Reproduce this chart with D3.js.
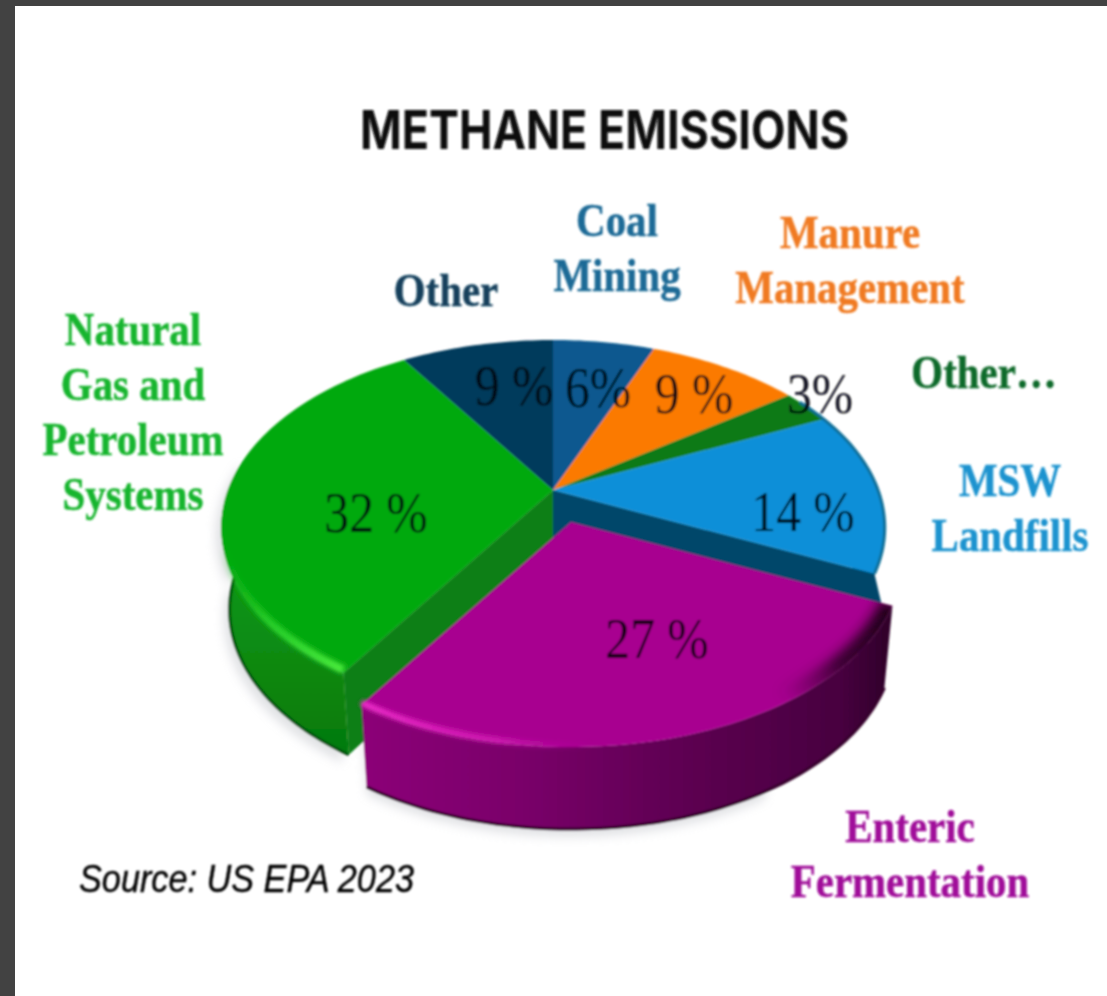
<!DOCTYPE html>
<html><head><meta charset="utf-8">
<script src="https://cdn.jsdelivr.net/npm/d3@7"></script>
<style>html,body{margin:0;padding:0;background:#fff;overflow:hidden}svg{display:block}</style>
</head><body><script>
const categories = ["Coal Mining","Manure Management","Other…","MSW Landfills","Enteric Fermentation","Natural Gas and Petroleum Systems","Other"];
const values = [6,9,3,14,27,32,9];
const sliceColors = ["#07598f","#fb7a05","#0a7a18","#0a8fd8","#a80090","#05a90f","#053b5c"];
const labelLines = [["Coal","Mining"],["Manure","Management"],["Other…"],["MSW","Landfills"],["Enteric","Fermentation"],["Natural","Gas and","Petroleum","Systems"],["Other"]];
const labelColors = ["#1d6a96","#f07a22","#0f6b2c","#1a93cf","#a0109a","#19b52e","#123f5c"];
const valueTexts = ["6%","9 %","3%","14 %","27 %","32 %","9 %"];
const titleText = "METHANE EMISSIONS";
const sourceText = "Source: US EPA 2023";
// layout (text anchor points, first-line baseline)
const labelPos = [[617,236],[850,248],[984,388],[1010,496],[910,842],[133,345],[446,306]];
const pctPos = [[598,407],[694,413],[820,413],[803,531],[657,658],[376,532],[514,405]];

const W=1107,H=996;
const svg=d3.select("body").append("svg").attr("width",W).attr("height",H);
const defs=svg.append("defs");
const f=defs.append("filter").attr("id","soft").attr("filterUnits","userSpaceOnUse").attr("x",0).attr("y",0).attr("width",W).attr("height",H);
f.append("feGaussianBlur").attr("stdDeviation",0.8);
const f2=defs.append("filter").attr("id","blur3").attr("filterUnits","userSpaceOnUse").attr("x",0).attr("y",0).attr("width",W).attr("height",H);
f2.append("feGaussianBlur").attr("stdDeviation",2.2);
const f3=defs.append("filter").attr("id","blur8").attr("filterUnits","userSpaceOnUse").attr("x",0).attr("y",0).attr("width",W).attr("height",H);
f3.append("feGaussianBlur").attr("stdDeviation",5);
const f4=defs.append("filter").attr("id","blur6").attr("filterUnits","userSpaceOnUse").attr("x",0).attr("y",0).attr("width",W).attr("height",H);
f4.append("feGaussianBlur").attr("stdDeviation",6);
function grad(id,x1,y1,x2,y2,stops){
  const g=defs.append("linearGradient").attr("id",id).attr("gradientUnits","userSpaceOnUse")
    .attr("x1",x1).attr("y1",y1).attr("x2",x2).attr("y2",y2);
  stops.forEach(s=>g.append("stop").attr("offset",s[0]).attr("stop-color",s[1]).attr("stop-opacity",s[2]===undefined?1:s[2]));
}
svg.append("rect").attr("width",W).attr("height",H).attr("fill","#fff");

// projection of the pie disc
const cx=553, cy=490, persp=0.2;
const sx=d3.scaleLinear().domain([-1,1]).range([-325,325]);
const sy=d3.scaleLinear().domain([-1,1]).range([-180,180]);
const depth=82, lowScale=0.975;
function project(a,drop=0,dx=0,dy=0,r=1){
  const X=Math.sin(a)*r, Y=-Math.cos(a)*r, w=1-persp*Y;
  const k=drop?lowScale:1;
  return [cx+dx+sx(X)/w*k, cy+dy+drop+sy(Y)/w];
}
const line=d3.line();
function rim(a0,a1,drop,dx,dy){
  const n=Math.max(2,Math.ceil(Math.abs(a1-a0)/0.02));
  return d3.range(n+1).map(i=>project(a0+(a1-a0)*i/n,drop,dx,dy));
}
const arcs=d3.pie().value(d=>d).sort(null)(values);
const wedge=(s,dx=0,dy=0)=>line([project(0,0,dx,dy,0),...rim(s.startAngle,s.endAngle,0,dx,dy)])+"Z";
const wall=(a0,a1,dx=0,dy=0)=>line([...rim(a0,a1,0,dx,dy),...rim(a1,a0,depth,dx,dy)])+"Z";

const root=svg.append("g").attr("filter","url(#soft)");
const ex=18, ey=32;
const ent=arcs[4], gas=arcs[5], msw=arcs[3];

// soft shadow below the pie
const shadow=root.append("g").attr("filter","url(#blur8)").attr("fill","#c9ccd0").attr("opacity",0.55);
shadow.append("path").attr("d",wall(gas.startAngle,gas.startAngle+1.2,-4,0)).attr("transform","translate(-2,8)");
shadow.append("path").attr("d",wall(ent.startAngle+0.6,ent.endAngle,ex,ey)).attr("transform","translate(0,8)");

// walls behind the exploded slice
grad("gasWall",0,540,0,750,[[0,"#0a9a12"],[0.5,"#0a8c12"],[1,"#067a0e"]]);
root.append("path").attr("d",wall(gas.startAngle,gas.startAngle+1.9)).attr("fill","url(#gasWall)");
root.append("path").attr("d",line(rim(gas.startAngle,gas.startAngle+1.9,depth))).attr("fill","none").attr("stroke","#04520a").attr("stroke-width",3);
// cut faces
const cut=(a,col)=>root.append("path").attr("d",line([project(0,0,0,0,0),project(a),project(a,depth),project(0,depth,0,0,0)])+"Z").attr("fill",col);
cut(gas.startAngle,"#0a7f14");
cut(msw.endAngle,"#04476b");
// small visible part of the MSW outer wall, between its rim and the exploded slice
root.append("path").attr("d",line([...rim(1.5,msw.endAngle,0),project(msw.endAngle,0,8,34),project(msw.endAngle,0,-30,34)])+"Z").attr("fill","#04476b");

// top surfaces (all but the exploded one)
root.append("g").selectAll("path").data(arcs.filter(d=>d.index!==4)).join("path")
  .attr("d",d=>wedge(d)).attr("fill",d=>sliceColors[d.index]);
// rim lines
root.append("path").attr("d",line(rim(1.0,msw.endAngle,0))).attr("fill","none").attr("stroke","#0a6d96").attr("stroke-width",3);
// gas highlight
const gs=project(gas.startAngle);
grad("gasHi",gs[0],gs[1],gs[0]-130,gs[1]-115,[[0,"#50f040"],[0.55,"#22cc26",0.95],[1,"#10b516",0]]);
root.append("path").attr("d",line(rim(gas.startAngle,gas.startAngle+1.05,0,0,-3))).attr("fill","none").attr("stroke","url(#gasHi)").attr("stroke-width",8).attr("filter","url(#blur3)");

// exploded slice
const p0=project(ent.startAngle,0,ex,ey), p1=project(ent.endAngle,0,ex,ey);
grad("entWall",p1[0],0,p0[0],0,[[0,"#8c0078"],[0.3,"#7a006a"],[0.6,"#5e0052"],[0.9,"#480040"],[1,"#2e0028"]]);
root.append("path").attr("d",wall(ent.startAngle,ent.endAngle,ex,ey)).attr("fill","url(#entWall)");
root.append("path").attr("d",line(rim(ent.startAngle,ent.endAngle,depth,ex,ey))).attr("fill","none").attr("stroke","#35002c").attr("stroke-width",3);
root.append("path").attr("d",wedge(ent,ex,ey)).attr("fill",sliceColors[4]);
grad("entHi",p1[0],p1[1],p1[0]+230,p1[1]+45,[[0,"#f530d0"],[0.6,"#d81cb8",0.85],[1,"#b000a0",0]]);
root.append("path").attr("d",line(rim(ent.endAngle,ent.endAngle-0.85,0,ex,ey-2))).attr("fill","none").attr("stroke","url(#entHi)").attr("stroke-width",6).attr("filter","url(#blur3)");
// darkening of the far right of the exploded rim, kept inside the slice
defs.append("clipPath").attr("id","entClip").append("path").attr("d",wedge(ent,ex,ey));
grad("entDark",p0[0],p0[1],p0[0]-95,p0[1]+105,[[0,"#1c0016"],[0.55,"#34002c",0.95],[1,"#4a0040",0]]);
root.append("g").attr("clip-path","url(#entClip)")
  .append("path").attr("d",line(rim(ent.startAngle,ent.startAngle+0.85,0,ex,ey-2))).attr("fill","none").attr("stroke","url(#entDark)").attr("stroke-width",24).attr("filter","url(#blur6)");

// percentages (tall, narrow serif)
root.append("g").selectAll("text").data(arcs).join("text")
  .attr("transform",d=>`translate(${pctPos[d.index][0]},${pctPos[d.index][1]}) scale(0.87,1)`)
  .attr("text-anchor","middle").attr("font-family","'Liberation Serif',serif").attr("font-size",57)
  .attr("fill","#05050c").attr("fill-opacity",0.92).text(d=>valueTexts[d.index]);

// category labels
const lab=root.append("g").attr("font-family","'Liberation Serif',serif").attr("font-weight",700).attr("font-size",47).attr("text-anchor","middle");
categories.forEach((c,i)=>{
  const g=lab.append("g").attr("fill",labelColors[i]).attr("stroke",labelColors[i]).attr("stroke-width",0.5).attr("aria-label",c);
  labelLines[i].forEach((l,j)=>g.append("text")
    .attr("transform",`translate(${labelPos[i][0]},${labelPos[i][1]+j*55}) scale(0.87,1)`).text(l));
});

// title and source
root.append("text").attr("x",360).attr("y",149).attr("font-family","Inter,sans-serif").attr("font-weight",700)
  .attr("font-size",54).attr("textLength",489).attr("lengthAdjust","spacingAndGlyphs").attr("fill","#0a0a0a").text(titleText);
root.append("text").attr("x",79).attr("y",892).attr("font-family","'Liberation Sans',sans-serif").attr("font-style","italic")
  .attr("font-size",38).attr("textLength",335).attr("lengthAdjust","spacingAndGlyphs").attr("fill","#000").attr("stroke","#000").attr("stroke-width",0.4).text(sourceText);

// dark screen frame
svg.append("rect").attr("width",W).attr("height",6).attr("fill","#424242");
svg.append("rect").attr("width",15).attr("height",H).attr("fill","#424242");
</script></body></html>
